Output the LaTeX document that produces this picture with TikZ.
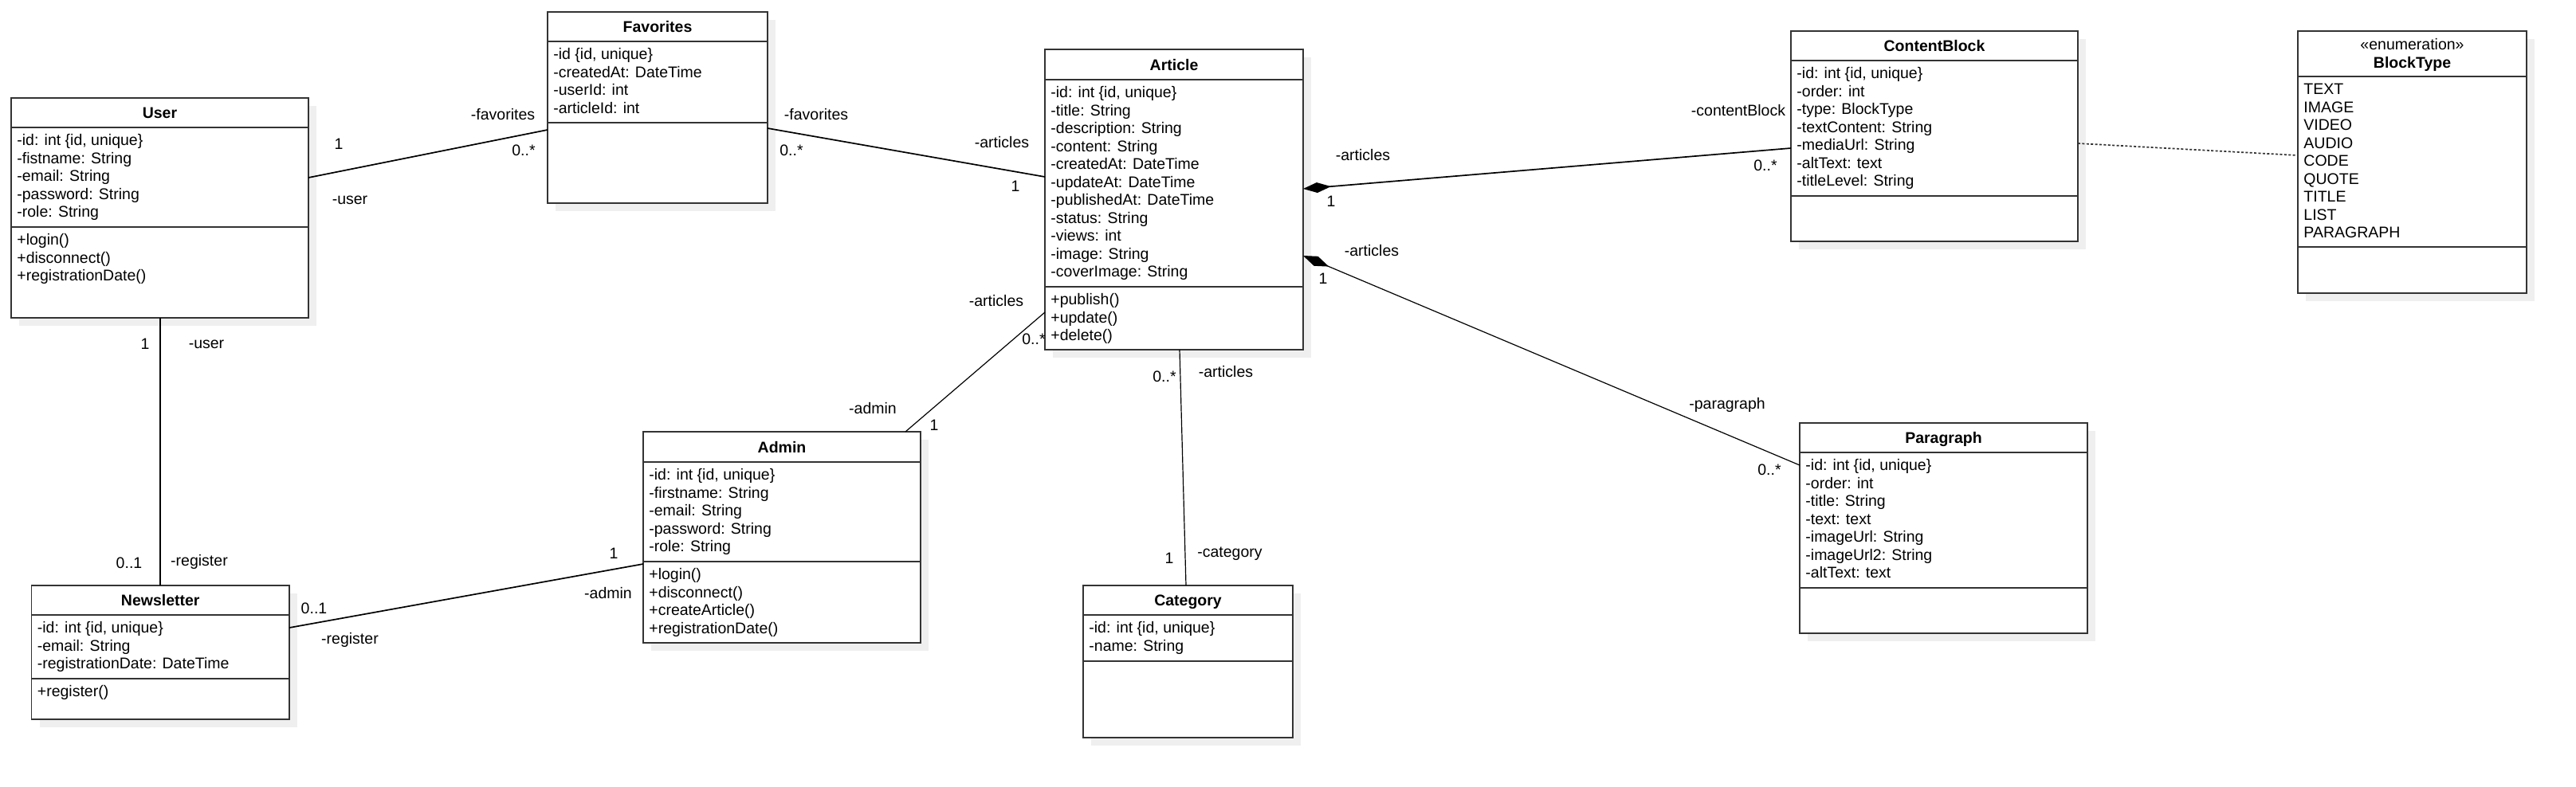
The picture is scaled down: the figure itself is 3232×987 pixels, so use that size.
\documentclass[tikz,border=0pt]{standalone}
\usepackage{fontspec}
\setmainfont{Liberation Sans}
\usetikzlibrary{calc,arrows.meta}
\definecolor{bordc}{HTML}{333333}
\definecolor{shadc}{HTML}{EFEFEF}
\newcommand\fs{\fontsize{9.75pt}{11.25pt}\selectfont}
\newcommand\fst{\rule{0pt}{8pt}}
\newcommand\ClassBox[7]{%
  \fill[shadc] (#2+10,#3+10) rectangle ++(#4,#5);
  \node[classbox, minimum width=#4*0.5pt, minimum height=#5*0.5pt] (#1) at (#2,#3) {};
  \draw[sepline] ($(#1.north west)+(0,#6)$) -- ($(#1.north east)+(0,#6)$);
  \draw[sepline] ($(#1.north west)+(0,#7)$) -- ($(#1.north east)+(0,#7)$);
}
\tikzset{
  classbox/.style={draw=bordc, fill=white, line width=0.9pt, anchor=north west, inner sep=0pt, outer sep=0pt},
  sepline/.style={draw=bordc, line width=0.75pt},
  titletext/.style={font=\fs\bfseries, inner sep=0pt, anchor=base},
  membertext/.style={font=\fs, inner sep=0pt, anchor=north west, align=left},
  lbl/.style={font=\fs, inner sep=0pt, anchor=base},
  assoc/.style={draw=black, line width=0.85pt},
  thinassoc/.style={draw=black, line width=0.6pt},
  comp/.style={assoc, {Diamond[length=17.5pt,width=6.5pt]}-},
  thincomp/.style={thinassoc, {Diamond[length=17.5pt,width=6.5pt]}-},
  depend/.style={draw=bordc, line width=0.85pt, dash pattern=on 1.5pt off 1.2pt}
}
\begin{document}
\begin{tikzpicture}[x=0.5pt, y=-0.5pt]
\fill[white] (0,0) rectangle (3232,987);
\useasboundingbox (0,0) rectangle (3232,987);

% ---------- classes ----------
\ClassBox{user}{14}{123}{373}{276}{37}{162}
\node[titletext] (user-t) at ($(user.north)+(0,25.5)$) {User};
\node[membertext] (user-a) at ($(user.north west)+(7,43.5)$) {\fst-id: int \{id, unique\}\\-fistname: String\\-email: String\\-password: String\\-role: String};
\node[membertext] (user-m) at ($(user.north west)+(7,168.5)$) {\fst+login()\\+disconnect()\\+registrationDate()};

\ClassBox{fav}{687}{15}{276}{240}{37}{139}
\node[titletext] (fav-t) at ($(fav.north)+(0,25.5)$) {Favorites};
\node[membertext] (fav-a) at ($(fav.north west)+(7,43.5)$) {\fst-id \{id, unique\}\\-createdAt: DateTime\\-userId: int\\-articleId: int};

\ClassBox{art}{1311}{62}{324}{377}{38}{298}
\node[titletext] (art-t) at ($(art.north)+(0,26)$) {Article};
\node[membertext] (art-a) at ($(art.north west)+(7,44.5)$) {\fst-id: int \{id, unique\}\\-title: String\\-description: String\\-content: String\\-createdAt: DateTime\\-updateAt: DateTime\\-publishedAt: DateTime\\-status: String\\-views: int\\-image: String\\-coverImage: String};
\node[membertext] (art-m) at ($(art.north west)+(7,304.5)$) {\fst+publish()\\+update()\\+delete()};

\ClassBox{cb}{2247}{39}{360}{264}{37}{207}
\node[titletext] (cb-t) at ($(cb.north)+(0,25.5)$) {ContentBlock};
\node[membertext] (cb-a) at ($(cb.north west)+(7,43.5)$) {\fst-id: int \{id, unique\}\\-order: int\\-type: BlockType\\-textContent: String\\-mediaUrl: String\\-altText: text\\-titleLevel: String};

\ClassBox{bt}{2883}{39}{287}{329}{57}{271}
\node[lbl] (bt-s) at ($(bt.north)+(0,23)$) {«enumeration»};
\node[titletext] (bt-t) at ($(bt.north)+(0,46)$) {BlockType};
\node[membertext] (bt-a) at ($(bt.north west)+(7,63.5)$) {\fst TEXT\\IMAGE\\VIDEO\\AUDIO\\CODE\\QUOTE\\TITLE\\LIST\\PARAGRAPH};

\ClassBox{news}{39.5}{735}{323.5}{168}{37}{117}
\node[titletext] (news-t) at ($(news.north)+(0,25.5)$) {Newsletter};
\node[membertext] (news-a) at ($(news.north west)+(7,43.5)$) {\fst-id: int \{id, unique\}\\-email: String\\-registrationDate: DateTime};
\node[membertext] (news-m) at ($(news.north west)+(7,123.5)$) {\fst+register()};

\ClassBox{adm}{807}{542}{348}{265}{38}{163}
\node[titletext] (adm-t) at ($(adm.north)+(0,26)$) {Admin};
\node[membertext] (adm-a) at ($(adm.north west)+(7,44.5)$) {\fst-id: int \{id, unique\}\\-firstname: String\\-email: String\\-password: String\\-role: String};
\node[membertext] (adm-m) at ($(adm.north west)+(7,169.5)$) {\fst+login()\\+disconnect()\\+createArticle()\\+registrationDate()};

\ClassBox{cat}{1359}{735}{263}{191}{37}{95}
\node[titletext] (cat-t) at ($(cat.north)+(0,25.5)$) {Category};
\node[membertext] (cat-a) at ($(cat.north west)+(7,43.5)$) {\fst-id: int \{id, unique\}\\-name: String};

\ClassBox{par}{2258}{531}{361}{264}{37}{207}
\node[titletext] (par-t) at ($(par.north)+(0,25.5)$) {Paragraph};
\node[membertext] (par-a) at ($(par.north west)+(7,43.5)$) {\fst-id: int \{id, unique\}\\-order: int\\-title: String\\-text: text\\-imageUrl: String\\-imageUrl2: String\\-altText: text};

% ---------- connectors ----------
\draw[assoc] ($(user.north east)+(0,100)$) -- ($(fav.north west)+(0,148)$);
\draw[assoc] ($(fav.north east)+(0,146)$) -- ($(art.north west)+(0,160)$);
\draw[comp] ($(art.north east)+(0,175)$) -- ($(cb.north west)+(0,147)$);
\draw[thincomp] ($(art.north east)+(0,259)$) -- ($(par.north west)+(0,53)$);
\draw[thinassoc] ($(art.north west)+(0,330)$) -- ($(adm.north west)+(329,0)$);
\draw[thinassoc] ($(art.south west)+(169,0)$) -- ($(cat.north west)+(129,0)$);
\draw[thinassoc] ($(user.south west)+(187,0)$) -- ($(news.north west)+(161.5,0)$);
\draw[assoc] ($(news.north east)+(0,53)$) -- ($(adm.north west)+(0,166)$);
\draw[depend] ($(cb.north east)+(0,141)$) -- ($(bt.north west)+(0,156)$);

% ---------- labels ----------
\node[lbl] (l1) at (425,187) {1};
\node[lbl] (l2) at (631,150) {-favorites};
\node[lbl] (l3) at (657,195) {0..*};
\node[lbl] (l4) at (439,256) {-user};
\node[lbl] (l5) at (1024,150) {-favorites};
\node[lbl] (l6) at (993,195) {0..*};
\node[lbl] (l7) at (1257,185) {-articles};
\node[lbl] (l8) at (1274,240) {1};
\node[lbl] (l9) at (1710,201) {-articles};
\node[lbl] (l10) at (1670,259) {1};
\node[lbl] (l11) at (2181,145) {-contentBlock};
\node[lbl] (l12) at (2215,214) {0..*};
\node[lbl] (l13) at (1721,321) {-articles};
\node[lbl] (l14) at (1660,356) {1};
\node[lbl] (l15) at (2167,513) {-paragraph};
\node[lbl] (l16) at (2220,596) {0..*};
\node[lbl] (l17) at (1250,384) {-articles};
\node[lbl] (l18) at (1297,432) {0..*};
\node[lbl] (l19) at (1095,519) {-admin};
\node[lbl] (l20) at (1172,540) {1};
\node[lbl] (l21) at (1461,479) {0..*};
\node[lbl] (l22) at (1538,473) {-articles};
\node[lbl] (l23) at (1467,707) {1};
\node[lbl] (l24) at (1543,699) {-category};
\node[lbl] (l25) at (182,438) {1};
\node[lbl] (l26) at (259,437) {-user};
\node[lbl] (l27) at (162,713) {0..1};
\node[lbl] (l28) at (250,710) {-register};
\node[lbl] (l29) at (394,770) {0..1};
\node[lbl] (l30) at (439,808) {-register};
\node[lbl] (l31) at (770,701) {1};
\node[lbl] (l32) at (763,751) {-admin};
\end{tikzpicture}
\end{document}
